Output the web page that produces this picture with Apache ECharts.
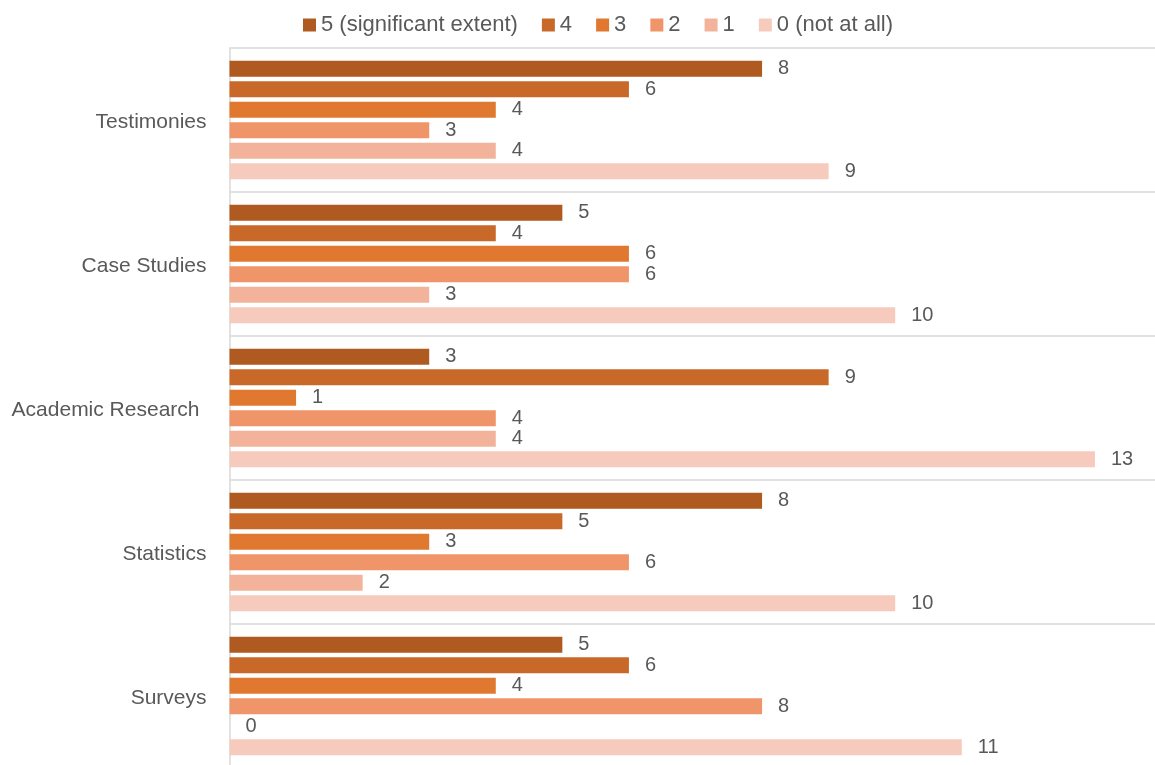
<!DOCTYPE html>
<html><head><meta charset="utf-8">
<script src="https://cdn.jsdelivr.net/npm/echarts@6/dist/echarts.min.js"></script>
<style>html,body{margin:0;padding:0;background:#fff}#c{width:1155px;height:765px}</style>
</head><body><div id="c"></div>
<script>
const categories = ["Testimonies", "Case Studies", "Academic Research", "Statistics", "Surveys"];
const seriesNames = ["5 (significant extent)", "4", "3", "2", "1", "0 (not at all)"];
const s5 = [8, 5, 3, 8, 5];
const s4 = [6, 4, 9, 5, 6];
const s3 = [4, 6, 1, 3, 4];
const s2 = [3, 6, 4, 6, 8];
const s1 = [4, 3, 4, 2, 0];
const s0 = [9, 10, 13, 10, 11];
const values = [s5, s4, s3, s2, s1, s0];
const colors = ["#AE5A21", "#C8692A", "#E07830", "#F0956A", "#F3B39B", "#F6CBBE"];

const font = "Liberation Sans";
const chart = echarts.init(document.getElementById('c'), null, {renderer: 'canvas'});
chart.setOption({
  animation: false,
  color: colors,
  textStyle: {fontFamily: font},
  legend: {
    top: 9, left: 298, itemWidth: 13, itemHeight: 13, itemGap: 24,
    icon: 'rect',
    textStyle: {fontSize: 22, color: '#595959', fontFamily: font},
    data: seriesNames
  },
  grid: {left: 229.5, top: 48, width: 932, height: 720, outerBoundsMode: 'none', containLabel: false},
  xAxis: {
    type: 'value', min: 0, max: 14, interval: 1,
    axisLabel: {show: false}, axisLine: {show: false}, axisTick: {show: false},
    splitLine: {show: false}
  },
  yAxis: {
    type: 'category', data: categories, inverse: true,
    axisLine: {show: true, lineStyle: {color: '#d9d9d9', width: 1.5}},
    axisTick: {show: false},
    splitLine: {show: true, lineStyle: {color: '#d9d9d9', width: 1.5}},
    axisLabel: {
      fontSize: 21, color: '#595959', margin: 23, fontFamily: font,
      formatter: v => v === "Academic Research" ? '{w|' + v + '}' : '{n|' + v + '}',
      rich: {
        n: {fontSize: 21, color: '#595959', fontFamily: font, padding: [4, 0, 0, 0]},
        w: {fontSize: 21, color: '#595959', fontFamily: font, padding: [4, 7, 0, 0]}
      }
    }
  },
  series: values.map((v, i) => ({
    name: seriesNames[i], type: 'bar', data: v,
    barWidth: 16, barGap: '28%',
    label: {show: true, position: 'right', distance: 16, fontSize: 20, color: '#595959', fontFamily: font}
  }))
});
</script></body></html>
